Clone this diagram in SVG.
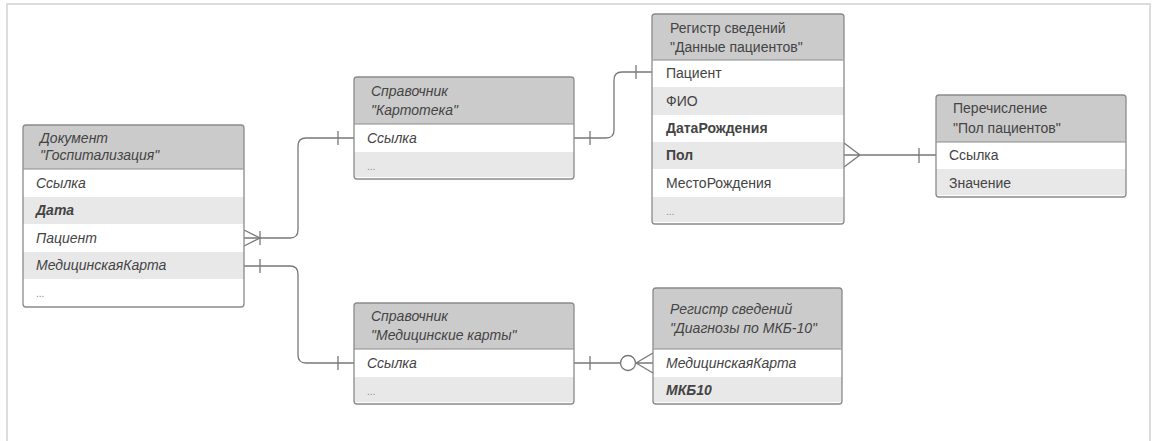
<svg xmlns="http://www.w3.org/2000/svg" width="1152" height="441" viewBox="0 0 1152 441">
<style>
text{font-family:"Liberation Sans",Arial,sans-serif;font-size:14px;fill:#444444}
.i{font-style:italic}
.b{font-weight:bold}
.d{font-size:10px;fill:#888}
.hd{fill:#cbcbcb}
.alt{fill:#e8e8e8}
.wh{fill:#ffffff}
.bx{fill:none;stroke:#8a8a8a;stroke-width:1.3}
.sep{stroke:#8a8a8a;stroke-width:1}
.c{fill:none;stroke:#787878;stroke-width:1.3}
</style>
<rect x="0" y="0" width="1152" height="441" fill="#ffffff"/>
<rect x="7" y="4" width="1143" height="460" fill="none" stroke="#dcdcdc" stroke-width="2"/>

<g id="connectors">
<path class="c" d="M244,238 H290 Q298,238 298,230 V146 Q298,138 306,138 H354"/>
<path class="c" d="M244,230 L260,238 M244,246 L260,238 M260,231 V245 M338,131 V145"/>
<path class="c" d="M244,266 H290 Q298,266 298,274 V355 Q298,363 306,363 H354"/>
<path class="c" d="M260,259 V273 M338,356 V370"/>
<path class="c" d="M574,138 H606 Q614,138 614,130 V80 Q614,72 622,72 H652"/>
<path class="c" d="M590,131 V145 M636,65 V79"/>
<path class="c" d="M844,155 H936 M844,143 L860,155 M844,167 L860,155 M919,148 V163"/>
<path class="c" d="M574,363 H620.5 M635.5,363 H653 M653,353 L636,363 M653,373 L636,363 M590,356 V370"/>
<circle class="c" cx="628" cy="363" r="7.5"/>
</g>

<g id="doc">
<rect class="hd" x="23" y="125" width="221" height="44" rx="3"/>
<rect class="wh" x="23" y="169" width="221" height="28"/>
<rect class="alt" x="23" y="197" width="221" height="27"/>
<rect class="wh" x="23" y="224" width="221" height="28"/>
<rect class="alt" x="23" y="252" width="221" height="27"/>
<rect class="wh" x="23" y="279" width="221" height="26"/>
<line class="sep" x1="23" y1="169" x2="244" y2="169"/>
<rect class="bx" x="23" y="125" width="221" height="182" rx="3"/>
<text class="i" x="40" y="143">Документ</text>
<text class="i" x="40" y="160">"Госпитализация"</text>
<text class="i" x="36" y="188">Ссылка</text>
<text class="i b" x="36" y="215">Дата</text>
<text class="i" x="36" y="243">Пациент</text>
<text class="i" x="36" y="270">МедицинскаяКарта</text>
<text class="d" x="36" y="297">...</text>
</g>

<g id="kartoteka">
<rect class="hd" x="354" y="77" width="220" height="47" rx="3"/>
<rect class="wh" x="354" y="124" width="220" height="28"/>
<rect class="alt" x="354" y="152" width="220" height="25"/>
<line class="sep" x1="354" y1="124" x2="574" y2="124"/>
<rect class="bx" x="354" y="77" width="220" height="102" rx="3"/>
<text class="i" x="371" y="96">Справочник</text>
<text class="i" x="371" y="115">"Картотека"</text>
<text class="i" x="367" y="143">Ссылка</text>
<text class="d" x="367" y="170">...</text>
</g>

<g id="medkarty">
<rect class="hd" x="354" y="303" width="220" height="46" rx="3"/>
<rect class="wh" x="354" y="349" width="220" height="28"/>
<rect class="alt" x="354" y="377" width="220" height="25"/>
<line class="sep" x1="354" y1="349" x2="574" y2="349"/>
<rect class="bx" x="354" y="303" width="220" height="101" rx="3"/>
<text class="i" x="371" y="321">Справочник</text>
<text class="i" x="371" y="340">"Медицинские карты"</text>
<text class="i" x="367" y="368">Ссылка</text>
<text class="d" x="367" y="395">...</text>
</g>

<g id="dannye">
<rect class="hd" x="652" y="14" width="192" height="46" rx="3"/>
<rect class="wh" x="652" y="60" width="192" height="27"/>
<rect class="alt" x="652" y="87" width="192" height="28"/>
<rect class="wh" x="652" y="115" width="192" height="27"/>
<rect class="alt" x="652" y="142" width="192" height="27"/>
<rect class="wh" x="652" y="169" width="192" height="28"/>
<rect class="alt" x="652" y="197" width="192" height="25"/>
<line class="sep" x1="652" y1="60" x2="844" y2="60"/>
<rect class="bx" x="652" y="14" width="192" height="210" rx="3"/>
<text x="670" y="33">Регистр сведений</text>
<text x="670" y="52">"Данные пациентов"</text>
<text x="666" y="78">Пациент</text>
<text x="666" y="106">ФИО</text>
<text class="b" x="666" y="133">ДатаРождения</text>
<text class="b" x="666" y="160">Пол</text>
<text x="666" y="188">МестоРождения</text>
<text class="d" x="666" y="215">...</text>
</g>

<g id="pol">
<rect class="hd" x="936" y="95" width="190" height="47" rx="3"/>
<rect class="wh" x="936" y="142" width="190" height="27"/>
<rect class="alt" x="936" y="169" width="190" height="26"/>
<line class="sep" x1="936" y1="142" x2="1126" y2="142"/>
<rect class="bx" x="936" y="95" width="190" height="102" rx="3"/>
<text x="953" y="113">Перечисление</text>
<text x="953" y="133">"Пол пациентов"</text>
<text x="949" y="160">Ссылка</text>
<text x="949" y="188">Значение</text>
</g>

<g id="diagnozy">
<rect class="hd" x="653" y="288" width="189" height="61" rx="3"/>
<rect class="wh" x="653" y="349" width="189" height="28"/>
<rect class="alt" x="653" y="377" width="189" height="25"/>
<line class="sep" x1="653" y1="349" x2="842" y2="349"/>
<rect class="bx" x="653" y="288" width="189" height="116" rx="3"/>
<text class="i" x="670" y="314">Регистр сведений</text>
<text class="i" x="670" y="333">"Диагнозы по МКБ-10"</text>
<text class="i" x="666" y="368">МедицинскаяКарта</text>
<text class="i b" x="666" y="395">МКБ10</text>
</g>
</svg>
